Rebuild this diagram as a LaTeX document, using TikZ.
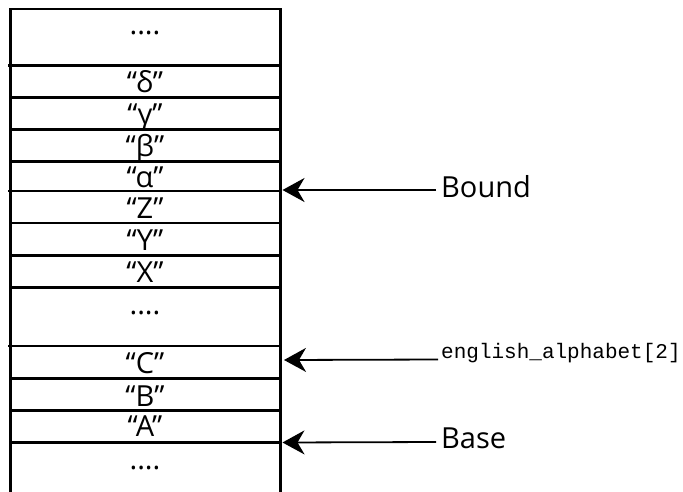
\documentclass[tikz,border=0pt]{standalone}
\usepackage{fontspec}
\setmainfont{Open Sans}
\setmonofont{Liberation Mono}
\usetikzlibrary{arrows.meta}
\tikzset{
  wall/.style={line width=2.4pt, line cap=rect},
  sep/.style={line width=2.2pt},
  cell/.style={font=\fontsize{29}{29}\selectfont, inner sep=0pt, anchor=base},
  lbl/.style={font=\fontsize{29}{29}\selectfont, inner sep=0pt, anchor=base west},
  code/.style={font=\fontsize{21}{21}\selectfont\ttfamily, inner sep=0pt, anchor=base west},
  ptr/.style={line width=1.8pt, -{Stealth[length=22pt,width=24pt,inset=7pt]}},
}
\begin{document}
\begin{tikzpicture}[x=1pt,y=-1pt]
\useasboundingbox (0,0) rectangle (683,491);
% walls
\draw[wall] (10.5,495) -- (10.5,9) -- (280.5,9) -- (280.5,495);
% separators
\foreach \y in {65.5,191,346}{\draw[sep] (8,\y) -- (280.5,\y);}
\foreach \y in {97.5,129.5,161.5,223,255.5,287.5,378.5,410.5,442.5}{\draw[sep] (10.5,\y) -- (280.5,\y);}
% cell labels
\node[cell] (d1) at (145,34) {....};
\node[cell] (delta) at (145,92) {“δ”};
\node[cell] (gamma) at (145,124) {“γ”};
\node[cell] (beta) at (145,156) {“β”};
\node[cell] (alpha) at (145,187) {“α”};
\node[cell] (zz) at (145,218) {“Z”};
\node[cell] (yy) at (145,250) {“Y”};
\node[cell] (xx) at (145,282) {“X”};
\node[cell] (d2) at (145,314) {....};
\node[cell] (cc) at (145,373) {“C”};
\node[cell] (bb) at (145,406) {“B”};
\node[cell] (aa) at (145,436) {“A”};
\node[cell] (d3) at (145,469) {....};
% pointer labels
\node[lbl] (bound) at (441,197) {Bound};
\node[code] (eng) at (441,358) {english\_alphabet[2]};
\node[lbl] (base) at (441,448) {Base};
\coordinate (boundtail) at (436,190);
\coordinate (boundtip) at (282.5,190);
\coordinate (engtail) at (438,359.5);
\coordinate (engtip) at (284,360);
\coordinate (basetail) at (436,442);
\coordinate (basetip) at (282.5,442.5);
\draw[ptr] (boundtail) -- (boundtip);
\draw[ptr] (engtail) -- (engtip);
\draw[ptr] (basetail) -- (basetip);
\end{tikzpicture}
\end{document}
